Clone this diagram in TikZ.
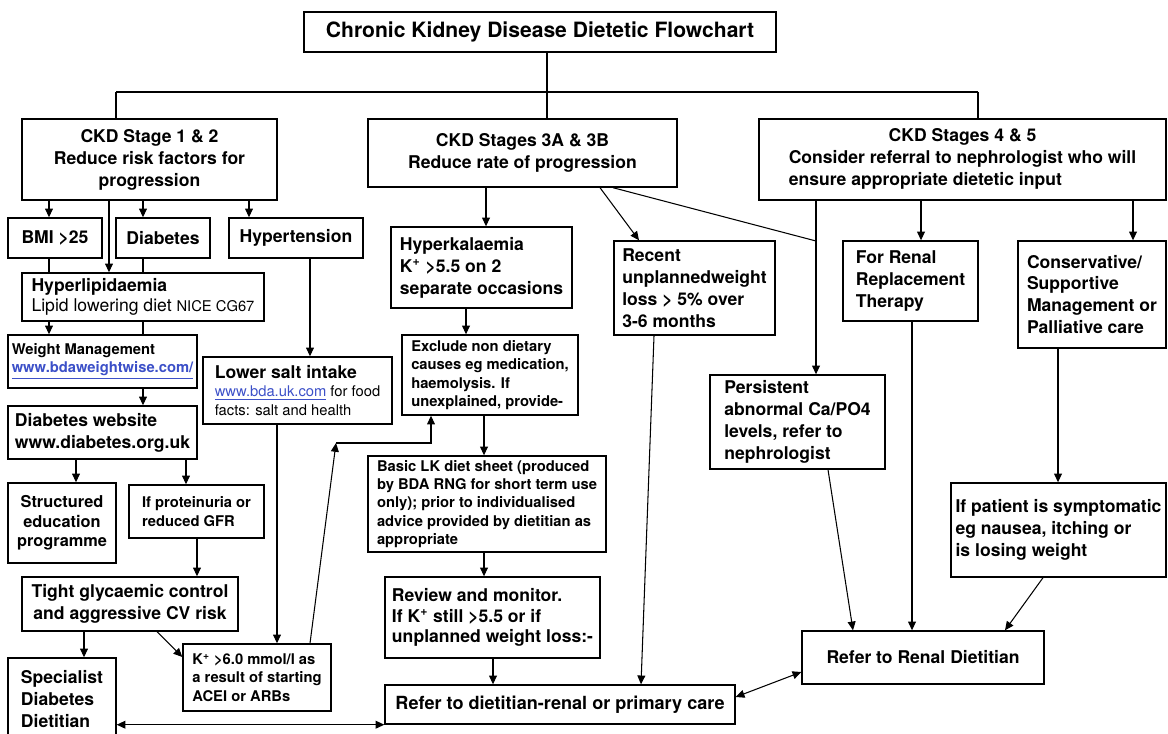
\documentclass[tikz,border=0pt]{standalone}
\usepackage{fontspec}
\setmainfont{TeX Gyre Heros}
\usepackage{xcolor}
\usepackage{tikz}
\usetikzlibrary{arrows.meta}
\definecolor{linkblue}{RGB}{60,80,200}
\newcommand{\titlefont}{\bfseries\fontsize{12}{14}\selectfont}
\newcommand{\bodyfont}{\bfseries\fontsize{10}{12.5}\selectfont}
\newcommand{\smallfont}{\bfseries\fontsize{8.4}{10.4}\selectfont}

\begin{document}
\begin{tikzpicture}[
                x=0.02cm, y=-0.02cm,
                box/.style={draw, line width=0.8pt, font=\bodyfont, align=left, inner sep=2pt},
                smallbox/.style={box, font=\smallfont},
                sz/.style 2 args={minimum width=#1cm, minimum height=#2cm},
                ln/.style={line width=0.6pt},
                arr/.style={ln, -{Triangle[length=5pt,width=4.5pt]}},
                dbl/.style={ln, {Triangle[length=5pt,width=4.5pt]}-{Triangle[length=5pt,width=4.5pt]}}
                ]
                \useasboundingbox (0,0) rectangle (1168,733);

                \node[box, align=center, font=\titlefont, sz={9.44}{0.8}] (title) at (540,32) {Chronic Kidney Disease Dietetic Flowchart};

                % the three stages
                \node[box, align=center, sz={5.1}{1.62}] (st12) at (149.5,159.5) {CKD Stage 1 \& 2\\Reduce risk factors for\\progression};
                \node[box, align=center, sz={6.18}{1.36}] (st3) at (522.5,153) {CKD Stages 3A \& 3B\\Reduce rate of progression};
                \node[box, sz={8.14}{1.62}] (st45) at (962.5,159.5) {\begin{tabular}{@{}l@{}}\multicolumn{1}{@{}c@{}}{CKD Stages 4 \& 5}\\ Consider referral to nephrologist who will\\ ensure appropriate dietetic input\end{tabular}};

                % stage 1 & 2 column
                \node[box, align=center, sz={1.88}{0.8}] (bmi) at (55,238) {BMI >25};
                \node[box, align=center, sz={1.88}{0.8}] (diab) at (163,238) {Diabetes};
                \node[box, align=center, sz={2.68}{0.8}] (hyper) at (296,238) {Hypertension};
                \node[box, sz={4.84}{0.96}] (lipid) at (143,297) {Hyperlipidaemia\\[-1pt]{\mdseries Lipid lowering diet {\fontsize{8.4}{10}\selectfont NICE CG67}}};
                \node[smallbox, sz={3.78}{1.06}] (weight) at (102.5,361.5) {Weight Management\\\textcolor{linkblue}{\underline{www.bdaweightwise.com/}}};
                \node[box, sz={3.78}{1.06}] (dweb) at (102.5,432.5) {Diabetes website\\www.diabetes.org.uk};
                \node[box, align=center, font=\bfseries\fontsize{9.3}{11}\selectfont, sz={2.16}{1.6}] (struct) at (62,523) {Structured\\education\\programme};
                \node[smallbox, sz={2.7}{1.06}] (prot) at (196.5,511.5) {If proteinuria or\\reduced GFR};
                \node[box, align=center, sz={4.32}{1.08}] (tight) at (130,604) {Tight glycaemic control\\and aggressive CV risk};
                \node[box, sz={2.16}{1.64}] (spec) at (62,699) {Specialist\\Diabetes\\Dietitian};
                \node[smallbox, sz={2.96}{1.34}] (kplus) at (257,677.5) {K\textsuperscript{+} >6.0 mmol/l as\\a result of starting\\ACEI or ARBs};
                \node[box, sz={3.78}{1.34}] (salt) at (297.5,390.5) {Lower salt intake\\[-2pt]{\mdseries\smallfont\mdseries \textcolor{linkblue}{\underline{www.bda.uk.com}} for food}\\[-2pt]{\mdseries\smallfont\mdseries facts: salt and health}};

                % stage 3 column
                \node[box, sz={3.62}{1.62}] (hk) at (481.5,267.5) {Hyperkalaemia\\K\textsuperscript{+} >5.5 on 2\\separate occasions};
                \node[smallbox, sz={3.52}{1.6}] (excl) at (490,375) {Exclude non dietary\\causes eg medication,\\haemolysis. If\\unexplained, provide-};
                \node[smallbox, sz={4.76}{1.92}] (lk) at (487,504) {Basic LK diet sheet (produced\\by BDA RNG for short term use\\only); prior to individualised\\advice provided by dietitian as\\appropriate};
                \node[box, sz={4.3}{1.62}] (review) at (492.5,617.5) {Review and monitor.\\[-1pt]If K\textsuperscript{+} still >5.5 or if\\[-1pt]unplanned weight loss:-};
                \node[box, align=center, font=\bfseries\fontsize{10.3}{12.5}\selectfont, sz={7.0}{0.78}] (refd) at (560,704.5) {Refer to dietitian-renal or primary care};
                \node[box, sz={3.22}{1.88}] (recent) at (694.5,288) {Recent\\unplannedweight\\loss > 5\% over\\3-6 months};

                % stage 4 & 5 column
                \node[box, sz={2.7}{1.6}] (rrt) at (910.5,281) {For Renal\\Replacement\\Therapy};
                \node[box, sz={2.96}{2.14}] (cons) at (1092,294.5) {Conservative/\\Supportive\\Management or\\Palliative care};
                \node[box, sz={3.5}{1.88}] (pers) at (797.5,422) {Persistent\\abnormal Ca/PO4\\levels, refer to\\nephrologist};
                \node[box, sz={4.3}{1.88}] (symp) at (1058.5,530) {If patient is symptomatic\\eg nausea, itching or\\is losing weight};
                \node[box, align=center, sz={4.84}{1.06}] (refr) at (923,657.5) {Refer to Renal Dietitian};

                % top bus
                \coordinate (busL) at (116,92);
                \coordinate (busR) at (978,92);
                \draw[ln] (title.south -| 547,0) -- (st3.north -| 547,0);
                \draw[ln] (busL) -- (busR);
                \draw[ln] (busL) -- (st12.north -| busL);
                \draw[ln] (busR) -- (st45.north -| busR);

                % stage 1 & 2 links
                \foreach \x/\n in {49/bmi, 143/diab, 249/hyper}
                    \draw[arr] (st12.south -| \x,0) -- (\n.north -| \x,0);
                \draw[arr] (st12.south -| 109,0) -- (lipid.north -| 109,0);
                \draw[ln] (bmi.south -| 49,0) -- (lipid.north -| 49,0);
                \draw[ln] (diab.south -| 143,0) -- (lipid.north -| 143,0);
                \draw[arr] (lipid.south -| 49,0) -- (weight.north -| 49,0);
                \draw[ln] (lipid.south -| 143,0) -- (weight.north -| 143,0);
                \draw[arr] (weight.south -| 143,0) -- (dweb.north -| 143,0);
                \draw[arr] (dweb.south -| 76,0) -- (struct.north -| 76,0);
                \draw[arr] (dweb.south -| 186,0) -- (prot.north -| 186,0);
                \draw[arr] (prot.south -| 197,0) -- (tight.north -| 197,0);
                \draw[arr] (tight.south -| 84,0) -- (spec.north -| 84,0);
                \draw[arr] (tight.south -| 157,0) -- (kplus.west |- 0,657);
                \draw[arr] (hyper.south -| 310,0) -- (salt.north -| 310,0);
                \draw[arr] (salt.south -| 277,0) -- (kplus.north -| 277,0);
                \coordinate (kjoin) at (336,443);
                \draw[arr] (kplus.north -| 310,0) -- (kjoin);
                \draw[arr] (kjoin) -| (excl.south -| 431,0);
                \draw[dbl] (spec.east |- refd.south) -- (refd.south west);

                % stage 3 links
                \draw[arr] (st3.south -| 486,0) -- (hk.north -| 486,0);
                \draw[arr] (hk.south -| 466,0) -- (excl.north -| 466,0);
                \draw[arr] (excl.south -| 484,0) -- (lk.north -| 484,0);
                \draw[arr] (lk.south -| 484,0) -- (review.north -| 484,0);
                \draw[arr] (review.south -| 493,0) -- (refd.north -| 493,0);
                \draw[arr] (st3.south -| 600,0) -- (recent.north -| 639,0);
                \coordinate (meet) at (816,241);
                \draw[ln] (st3.south -| 613,0) -- (meet);
                \draw[arr] (recent.south -| 654,0) -- (refd.north -| 641,0);

                % stage 4 & 5 links
                \draw[arr] (st45.south -| 816,0) -- (pers.north -| 816,0);
                \draw[arr] (st45.south -| 921,0) -- (rrt.north -| 921,0);
                \draw[arr] (st45.south -| 1133,0) -- (cons.north -| 1133,0);
                \draw[arr] (cons.south -| 1058,0) -- (symp.north -| 1058,0);
                \draw[arr] (pers.south -| 828,0) -- (refr.north -| 853,0);
                \draw[arr] (rrt.south -| 912,0) -- (refr.north -| 912,0);
                \draw[arr] (symp.south -| 1043,0) -- (refr.north -| 1005,0);
                \draw[dbl] (refd.east |- 0,697) -- (refr.west |- 0,672);
            \end{tikzpicture}
\end{document}
